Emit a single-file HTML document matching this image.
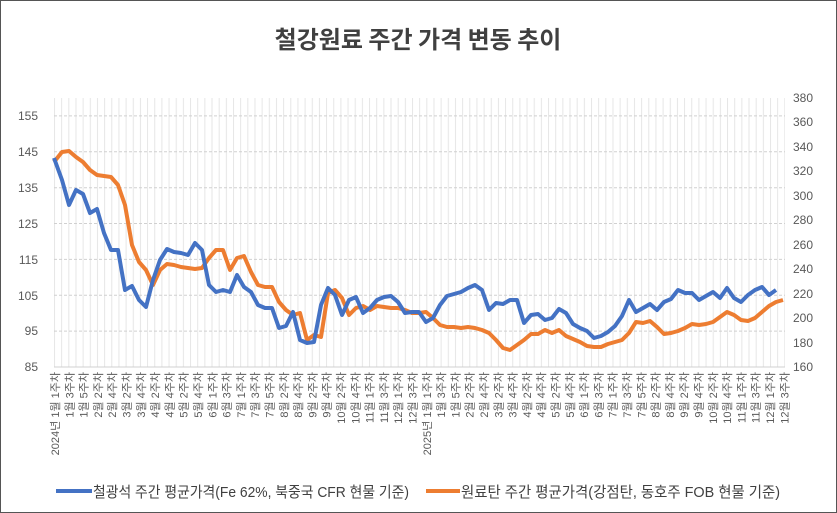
<!DOCTYPE html>
<html><head><meta charset="utf-8"><style>
body{margin:0;background:#fff}
svg{display:block;font-family:"Liberation Sans","Noto Sans CJK KR",sans-serif}
</style></head><body>
<svg width="837" height="513" viewBox="0 0 837 513" xmlns="http://www.w3.org/2000/svg">
<defs>
<pattern id="vg" x="54" y="0" width="7.16" height="10" patternUnits="userSpaceOnUse">
<line x1="0.5" y1="0" x2="0.5" y2="10" stroke="#e6e6e6" stroke-width="1"/>
</pattern>
</defs>
<rect x="0.5" y="0.5" width="836" height="512" fill="#fff" stroke="#555" stroke-width="1"/>
<text x="418" y="48" text-anchor="middle" font-size="24" font-weight="bold" fill="#404040" font-family="'Noto Sans CJK KR',sans-serif">철강원료 주간 가격 변동 추이</text>
<rect x="54" y="98" width="731" height="269" fill="url(#vg)"/>
<g stroke="#d0d0d0" stroke-dasharray="3,2" stroke-width="1">
<line x1="54" y1="115.9" x2="785" y2="115.9"/><line x1="54" y1="151.8" x2="785" y2="151.8"/>
<line x1="54" y1="187.7" x2="785" y2="187.7"/><line x1="54" y1="223.5" x2="785" y2="223.5"/>
<line x1="54" y1="259.4" x2="785" y2="259.4"/><line x1="54" y1="295.3" x2="785" y2="295.3"/>
<line x1="54" y1="331.1" x2="785" y2="331.1"/>
</g>
<line x1="54" y1="367" x2="785" y2="367" stroke="#d0d0d0"/>
<g font-size="12" fill="#595959" text-anchor="end">
<text x="38" y="120">155</text><text x="38" y="156">145</text><text x="38" y="192">135</text><text x="38" y="228">125</text><text x="38" y="264">115</text><text x="38" y="300">105</text><text x="38" y="335">95</text><text x="38" y="371">85</text>
</g>
<g font-size="12" fill="#595959" text-anchor="start">
<text x="793" y="102">380</text><text x="793" y="126">360</text><text x="793" y="151">340</text><text x="793" y="175">320</text><text x="793" y="200">300</text><text x="793" y="224">280</text><text x="793" y="249">260</text><text x="793" y="273">240</text><text x="793" y="298">220</text><text x="793" y="322">200</text><text x="793" y="347">180</text><text x="793" y="371">160</text>
</g>
<polyline fill="none" stroke="#ed7d31" stroke-width="4" stroke-linejoin="round" points="54,162 62,152 69,151 76,157 83,162 90,170 97,175 104,176 111,177 118,185 125,205 132,245 139,262 146,270 153,285 160,270 167,264 174,265 181,267 188,268 195,269 202,268 209,258 216,250 223,250 230,270 237,258 244,256 251,272 258,285 265,287 272,287 279,302 286,310 293,315 300,313 307,340 314,335 321,337 328,293 335,290 342,298 349,315 356,308 363,306 370,310 377,306 384,307 391,308 398,308 405,310 412,313 419,313 426,312 433,318 440,325 447,327 454,327 461,328 468,327 475,328 482,330 489,333 496,340 503,348 510,350 517,345 524,340 531,334 538,334 545,330 552,333 559,330 566,336 573,339 580,342 587,346 594,347 601,347 608,344 615,342 622,340 629,333 636,322 643,323 650,321 657,327 664,334 671,333 678,331 685,328 692,324 699,325 706,324 713,322 720,317 727,312 734,315 741,320 748,321 755,318 762,312 769,306 776,302 783,300"/>
<polyline fill="none" stroke="#4472c4" stroke-width="4" stroke-linejoin="round" points="54,158 62,180 69,205 76,190 83,194 90,213 97,209 104,233 111,250 118,250 125,290 132,286 139,300 146,307 153,280 160,260 167,249 174,252 181,253 188,255 195,243 202,250 209,285 216,292 223,290 230,292 237,275 244,287 251,292 258,305 265,308 272,308 279,328 286,326 293,312 300,340 307,343 314,342 321,305 328,288 335,295 342,315 349,300 356,297 363,313 370,308 377,300 384,297 391,296 398,302 405,313 412,312 419,312 426,322 433,318 440,305 447,296 454,294 461,292 468,288 475,285 482,290 489,310 496,303 503,304 510,300 517,300 524,323 531,315 538,314 545,320 552,318 559,309 566,313 573,324 580,328 587,331 594,338 601,336 608,332 615,326 622,316 629,300 636,312 643,308 650,304 657,310 664,302 671,299 678,290 685,293 692,293 699,300 706,296 713,292 720,298 727,288 734,298 741,302 748,295 755,290 762,287 769,295 776,290"/>
<g font-size="11" fill="#595959" text-anchor="end">
<text transform="translate(59,372) rotate(-90)">2024년 1월 1주차</text>
<text transform="translate(73.3,372) rotate(-90)">1월 3주차</text>
<text transform="translate(87.6,372) rotate(-90)">1월 5주차</text>
<text transform="translate(101.9,372) rotate(-90)">2월 2주차</text>
<text transform="translate(116.2,372) rotate(-90)">2월 4주차</text>
<text transform="translate(130.5,372) rotate(-90)">3월 2주차</text>
<text transform="translate(144.8,372) rotate(-90)">3월 4주차</text>
<text transform="translate(159.1,372) rotate(-90)">4월 2주차</text>
<text transform="translate(173.4,372) rotate(-90)">4월 4주차</text>
<text transform="translate(187.7,372) rotate(-90)">5월 2주차</text>
<text transform="translate(202,372) rotate(-90)">5월 4주차</text>
<text transform="translate(216.3,372) rotate(-90)">6월 1주차</text>
<text transform="translate(230.6,372) rotate(-90)">6월 3주차</text>
<text transform="translate(244.9,372) rotate(-90)">7월 1주차</text>
<text transform="translate(259.2,372) rotate(-90)">7월 3주차</text>
<text transform="translate(273.5,372) rotate(-90)">7월 5주차</text>
<text transform="translate(287.8,372) rotate(-90)">8월 2주차</text>
<text transform="translate(302.1,372) rotate(-90)">8월 4주차</text>
<text transform="translate(316.4,372) rotate(-90)">9월 2주차</text>
<text transform="translate(330.7,372) rotate(-90)">9월 4주차</text>
<text transform="translate(345,372) rotate(-90)">10월 2주차</text>
<text transform="translate(359.3,372) rotate(-90)">10월 4주차</text>
<text transform="translate(373.6,372) rotate(-90)">11월 1주차</text>
<text transform="translate(387.9,372) rotate(-90)">11월 3주차</text>
<text transform="translate(402.2,372) rotate(-90)">12월 1주차</text>
<text transform="translate(416.5,372) rotate(-90)">12월 3주차</text>
<text transform="translate(430.8,372) rotate(-90)">2025년 1월 1주차</text>
<text transform="translate(445.1,372) rotate(-90)">1월 3주차</text>
<text transform="translate(459.4,372) rotate(-90)">1월 5주차</text>
<text transform="translate(473.7,372) rotate(-90)">2월 2주차</text>
<text transform="translate(488,372) rotate(-90)">2월 4주차</text>
<text transform="translate(502.3,372) rotate(-90)">3월 2주차</text>
<text transform="translate(516.6,372) rotate(-90)">3월 4주차</text>
<text transform="translate(530.9,372) rotate(-90)">4월 2주차</text>
<text transform="translate(545.2,372) rotate(-90)">4월 4주차</text>
<text transform="translate(559.5,372) rotate(-90)">5월 2주차</text>
<text transform="translate(573.8,372) rotate(-90)">5월 4주차</text>
<text transform="translate(588.1,372) rotate(-90)">6월 1주차</text>
<text transform="translate(602.4,372) rotate(-90)">6월 3주차</text>
<text transform="translate(616.7,372) rotate(-90)">7월 1주차</text>
<text transform="translate(631,372) rotate(-90)">7월 3주차</text>
<text transform="translate(645.3,372) rotate(-90)">7월 5주차</text>
<text transform="translate(659.6,372) rotate(-90)">8월 2주차</text>
<text transform="translate(673.9,372) rotate(-90)">8월 4주차</text>
<text transform="translate(688.2,372) rotate(-90)">9월 2주차</text>
<text transform="translate(702.5,372) rotate(-90)">9월 4주차</text>
<text transform="translate(716.8,372) rotate(-90)">10월 2주차</text>
<text transform="translate(731.1,372) rotate(-90)">10월 4주차</text>
<text transform="translate(745.4,372) rotate(-90)">11월 1주차</text>
<text transform="translate(759.7,372) rotate(-90)">11월 3주차</text>
<text transform="translate(774,372) rotate(-90)">12월 1주차</text>
<text transform="translate(788.3,372) rotate(-90)">12월 3주차</text>
</g>
<line x1="56" y1="491" x2="92" y2="491" stroke="#4472c4" stroke-width="4"/>
<text x="93" y="497" font-size="15" fill="#404040" textLength="316" lengthAdjust="spacingAndGlyphs">철광석 주간 평균가격(Fe 62%, 북중국 CFR 현물 기준)</text>
<line x1="426" y1="491" x2="460" y2="491" stroke="#ed7d31" stroke-width="4"/>
<text x="461" y="497" font-size="15" fill="#404040" textLength="319" lengthAdjust="spacingAndGlyphs">원료탄 주간 평균가격(강점탄, 동호주 FOB 현물 기준)</text>
</svg>
</body></html>
